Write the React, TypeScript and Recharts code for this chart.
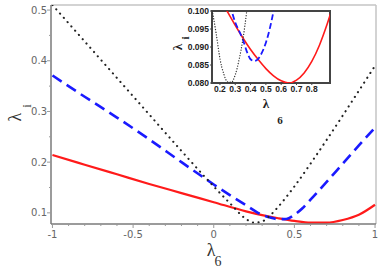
import React from 'react';
import { LineChart, Line, XAxis, YAxis, ReferenceLine, ReferenceArea } from 'recharts';

// ---- main chart data ----
const blackX = [-1, -0.8, -0.6, -0.4, -0.2, 0, 0.1, 0.2, 0.25, 0.3, 0.35, 0.4, 0.5, 0.6, 0.7, 0.8, 0.9, 1];
const blackY = [0.51, 0.438, 0.366, 0.294, 0.222, 0.152, 0.119, 0.088, 0.0805, 0.083, 0.095, 0.112, 0.152, 0.197, 0.244, 0.292, 0.341, 0.39];
const blueX = [-1, -0.8, -0.6, -0.4, -0.2, 0, 0.1, 0.2, 0.3, 0.35, 0.4, 0.45, 0.5, 0.55, 0.6, 0.7, 0.8, 0.9, 1];
const blueY = [0.371, 0.329, 0.288, 0.245, 0.2, 0.156, 0.135, 0.115, 0.096, 0.091, 0.0875, 0.088, 0.096, 0.109, 0.126, 0.161, 0.197, 0.233, 0.268];
const redX = [-1, -0.8, -0.6, -0.4, -0.2, 0, 0.2, 0.3, 0.4, 0.5, 0.6, 0.7, 0.8, 0.9, 1];
const redY = [0.214, 0.195, 0.176, 0.157, 0.139, 0.121, 0.103, 0.0955, 0.0893, 0.084, 0.0806, 0.0808, 0.086, 0.0963, 0.116];

const mainXTicks = [-1, -0.9, -0.8, -0.7, -0.6, -0.5, -0.4, -0.3, -0.2, -0.1, 0, 0.1, 0.2, 0.3, 0.4, 0.5, 0.6, 0.7, 0.8, 0.9, 1];
const mainXLabels = ['-1', '-0.5', '0', '0.5', '1'];
const mainYTicks = [0.1, 0.15, 0.2, 0.25, 0.3, 0.35, 0.4, 0.45, 0.5];
const mainYLabels = ['0.1', '0.2', '0.3', '0.4', '0.5'];

// ---- inset data ----
const insetBlackX = [0.15, 0.175, 0.2, 0.225, 0.25, 0.275, 0.3, 0.325, 0.35, 0.375, 0.4];
const insetBlackY = [0.1, 0.0938, 0.0868, 0.0825, 0.0803, 0.0802, 0.0823, 0.0865, 0.0922, 0.1, 0.11];
const insetBlueX = [0.25, 0.275, 0.3, 0.325, 0.35, 0.375, 0.4, 0.425, 0.45, 0.475, 0.5, 0.525, 0.55, 0.575];
const insetBlueY = [0.104, 0.1003, 0.0968, 0.0945, 0.092, 0.0888, 0.0866, 0.0861, 0.0867, 0.0885, 0.0912, 0.095, 0.1, 0.106];
const insetRedX = [0.15, 0.2, 0.25, 0.3, 0.35, 0.4, 0.45, 0.5, 0.55, 0.6, 0.65, 0.7, 0.75, 0.8, 0.85, 0.9, 0.95];
const insetRedY = [0.1075, 0.1035, 0.0997, 0.096, 0.0925, 0.0893, 0.0865, 0.084, 0.082, 0.0806, 0.08, 0.0808, 0.0828, 0.086, 0.0905, 0.0963, 0.103];
const insetXTicks = [0.2, 0.3, 0.4, 0.5, 0.6, 0.7, 0.8];
const insetXLabels = ['0.2', '0.3', '0.4', '0.5', '0.6', '0.7', '0.8'];
const insetYTicks = [0.08, 0.085, 0.09, 0.095, 0.1];
const insetYLabels = ['0.080', '0.085', '0.090', '0.095', '0.100'];

const pts = (xs: number[], ys: number[]) => xs.map((x, i) => ({ x, y: ys[i] }));

const MX_DOMAIN: [number, number] = [-1.009, 1.006];
const MY_DOMAIN: [number, number] = [0.078, 0.51];
const IX_DOMAIN: [number, number] = [0.148, 0.919];
const IY_DOMAIN: [number, number] = [0.08, 0.1];

const labelFor = (v: number, ticks: number[], labels: string[]) => {
  const i = ticks.findIndex((t) => Math.abs(t - v) < 1e-9);
  return i >= 0 ? labels[i] : null;
};
const mainXMajor = [-1, -0.5, 0, 0.5, 1];
const mainYMajor = [0.1, 0.2, 0.3, 0.4, 0.5];

const MainXTick = (props: any) => {
  const { x, y, payload } = props;
  const lab = labelFor(payload.value, mainXMajor, mainXLabels);
  return (
    <g>
      <line x1={x} x2={x} y1={y} y2={y + (lab ? 4 : 2)} stroke="#999" strokeWidth={1} />
      {lab && (
        <text x={x} y={y + 14} textAnchor="middle" fontSize={10} fill="#666" fontFamily="DejaVu Sans">
          {lab}
        </text>
      )}
    </g>
  );
};

const MainYTick = (props: any) => {
  const { x, y, payload } = props;
  const lab = labelFor(payload.value, mainYMajor, mainYLabels);
  return (
    <g>
      <line x1={x} x2={x - (lab ? 4 : 2)} y1={y} y2={y} stroke="#999" strokeWidth={1} />
      {lab && (
        <text x={x - 4} y={y + 3.5} textAnchor="end" fontSize={10} fill="#666" fontFamily="DejaVu Sans">
          {lab}
        </text>
      )}
    </g>
  );
};

const MainXLabel = () => (
  <g fontFamily="Liberation Serif" fill="#333">
    <text x={211} y={256} textAnchor="middle" fontSize={18}>λ</text>
    <text x={218} y={266} textAnchor="middle" fontSize={14}>6</text>
  </g>
);

const MainYLabel = () => (
  <g fontFamily="Liberation Serif" fill="#333">
    <text x={15} y={117} textAnchor="middle" dominantBaseline="central" fontSize={18} transform="rotate(-90, 15, 117)">λ</text>
    <text x={26} y={106} textAnchor="middle" dominantBaseline="central" fontSize={13} transform="rotate(-90, 26, 106)">i</text>
  </g>
);

// inset coordinates are local to inset svg placed at left 170
const IL = 165;
const InsetXLabel = () => (
  <g fontFamily="Liberation Serif" fill="#222" fontWeight="bold">
    <text x={266 - IL} y={108} textAnchor="middle" fontSize={13}>λ</text>
    <text x={280 - IL} y={124} textAnchor="middle" fontSize={11}>6</text>
  </g>
);
const InsetYLabel = () => (
  <g fontFamily="Liberation Serif" fill="#222" fontWeight="bold">
    <text x={177 - IL} y={47} textAnchor="middle" dominantBaseline="central" fontSize={13} transform={`rotate(-90, ${177 - IL}, 47)`}>λ</text>
    <text x={185 - IL} y={38} textAnchor="middle" dominantBaseline="central" fontSize={11} transform={`rotate(-90, ${185 - IL}, 38)`}>i</text>
  </g>
);

const insetTickStyle = { fontSize: 8.5, fill: '#222', fontWeight: 'bold', fontFamily: 'Liberation Sans' };

export default function App() {
  return (
    <div style={{ position: 'absolute', left: 0, top: 0, width: 382, height: 273, background: '#fff' }}>
      <div style={{ position: 'absolute', left: 0, top: 0 }}>
        <LineChart width={382} height={273} margin={{ top: 5, right: 6, bottom: 0, left: 0 }}>
          <XAxis
            type="number"
            dataKey="x"
            domain={MX_DOMAIN}
            allowDataOverflow
            ticks={mainXTicks}
            interval={0}
            height={49}
            tickSize={0}
            tickMargin={0}
            tickLine={false}
            axisLine={{ stroke: '#7a7a7a', strokeWidth: 1.5 }}
            tick={<MainXTick />}
            label={<MainXLabel />}
          />
          <YAxis
            type="number"
            dataKey="y"
            domain={MY_DOMAIN}
            allowDataOverflow
            ticks={mainYTicks}
            interval={0}
            width={51}
            tickSize={0}
            tickMargin={0}
            tickLine={false}
            axisLine={{ stroke: '#7a7a7a', strokeWidth: 1.5 }}
            tick={<MainYTick />}
            label={<MainYLabel />}
          />
          <ReferenceLine y={MY_DOMAIN[1]} stroke="#c4c4c4" strokeWidth={1.5} />
          <ReferenceLine x={MX_DOMAIN[1]} stroke="#c4c4c4" strokeWidth={1.5} />
          <Line data={pts(redX, redY)} dataKey="y" type="monotone" stroke="#ff1a1a" strokeWidth={2.2} dot={false} isAnimationActive={false} />
          <Line data={pts(blueX, blueY)} dataKey="y" type="monotone" stroke="#1a1aff" strokeWidth={2.6} strokeDasharray="11 6" dot={false} isAnimationActive={false} />
          <Line data={pts(blackX, blackY)} dataKey="y" type="monotone" stroke="#222" strokeWidth={2.1} strokeDasharray="0.1 5.6" strokeLinecap="round" dot={false} isAnimationActive={false} />
        </LineChart>
      </div>
      <div style={{ position: 'absolute', left: IL, top: 0 }}>
        <LineChart width={170} height={135} margin={{ top: 11, right: 5, bottom: 0, left: 0 }}>
          <XAxis
            type="number"
            dataKey="x"
            domain={IX_DOMAIN}
            allowDataOverflow
            ticks={insetXTicks}
            interval={0}
            height={52}
            tickSize={2}
            tickMargin={1}
            tickFormatter={(v: number) => labelFor(v, insetXTicks, insetXLabels) || ''}
            tickLine={{ stroke: '#444' }}
            axisLine={false}
            tick={insetTickStyle}
            label={<InsetXLabel />}
          />
          <YAxis
            type="number"
            dataKey="y"
            domain={IY_DOMAIN}
            allowDataOverflow
            ticks={insetYTicks}
            interval={0}
            width={47}
            tickSize={2}
            tickMargin={1}
            tickFormatter={(v: number) => labelFor(v, insetYTicks, insetYLabels) || ''}
            tickLine={{ stroke: '#444' }}
            axisLine={false}
            tick={insetTickStyle}
            label={<InsetYLabel />}
          />
          <Line data={pts(insetRedX, insetRedY)} dataKey="y" type="monotone" stroke="#ff1a1a" strokeWidth={1.6} dot={false} isAnimationActive={false} />
          <Line data={pts(insetBlueX, insetBlueY)} dataKey="y" type="monotone" stroke="#1a1aff" strokeWidth={1.8} strokeDasharray="6 3" dot={false} isAnimationActive={false} />
          <Line data={pts(insetBlackX, insetBlackY)} dataKey="y" type="monotone" stroke="#333" strokeWidth={1.3} strokeDasharray="0.1 2.6" strokeLinecap="round" dot={false} isAnimationActive={false} />
          <ReferenceArea x1={IX_DOMAIN[0]} x2={IX_DOMAIN[1]} y1={IY_DOMAIN[0]} y2={IY_DOMAIN[1]} fill="none" fillOpacity={0} stroke="#444" strokeWidth={2} />
        </LineChart>
      </div>
    </div>
  );
}
